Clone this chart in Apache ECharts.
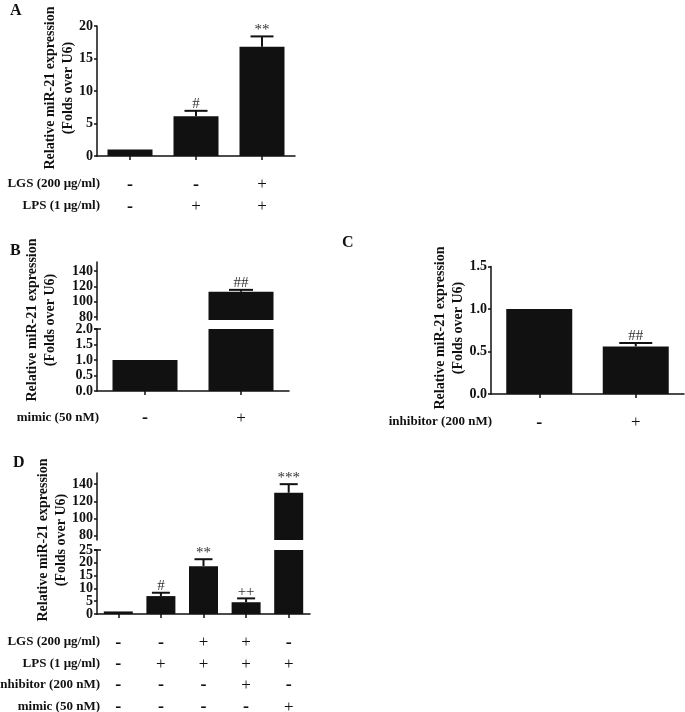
<!DOCTYPE html>
<html><head><meta charset="utf-8">
<script src="https://cdn.jsdelivr.net/npm/echarts@6/dist/echarts.min.js"></script>
<style>html,body{margin:0;padding:0;background:#fff}#c{width:685px;height:712px}</style>
</head><body><div id="c"></div>
<script>
const FONT = '"Liberation Serif","Times New Roman",serif';
const INK = '#111';
const AXIS_NAME = 'Relative miR-21 expression\n(Folds over U6)';

// Panel A
const aValues = [1.0, 6.1, 16.8];
const aErrors = [0.0, 0.85, 1.6];
const aMarks = ['', '#', '**'];
const aTicks = [0, 5, 10, 15, 20];
const aRowLabels = ['LGS (200 μg/ml)', 'LPS (1 μg/ml)'];
const aSigns = [['-', '-', '+'], ['-', '+', '+']];

// Panel B
const bValues = [1.0, 113];
const bErrors = [0.0, 2.5];
const bMarks = ['', '##'];
const bTicksUpper = [80, 100, 120, 140];
const bTicksLower = [0, 0.5, 1.0, 1.5, 2.0];
const bRowLabels = ['mimic (50 nM)'];
const bSigns = [['-', '+']];

// Panel C
const cValues = [1.0, 0.56];
const cErrors = [0.0, 0.04];
const cMarks = ['', '##'];
const cTicks = [0, 0.5, 1.0, 1.5];
const cRowLabels = ['inhibitor (200 nM)'];
const cSigns = [['-', '+']];

// Panel D
const dValues = [1.0, 7.0, 18.7, 4.6, 130];
const dErrors = [0.0, 1.3, 2.7, 1.5, 10];
const dMarks = ['', '#', '**', '++', '***'];
const dTicksUpper = [80, 100, 120, 140];
const dTicksLower = [0, 5, 10, 15, 20, 25];
const dRowLabels = ['LGS (200 μg/ml)', 'LPS (1 μg/ml)', 'inhibitor (200 nM)', 'mimic (50 nM)'];
const dSigns = [
  ['-', '-', '+', '+', '-'],
  ['-', '+', '+', '+', '+'],
  ['-', '-', '-', '+', '-'],
  ['-', '-', '-', '-', '+']
];

const int = v => String(v);
const dec = v => Number(v).toFixed(1);

const panels = [
  { letter: 'A', letterPos: [10, 3], values: aValues, errors: aErrors, marks: aMarks, rows: aRowLabels, signs: aSigns,
    left: 97, width: 198, barWidth: 45, cap: 23, rowOffset: 28, rowGap: 22, rowRight: 100, name: [59, 88],
    segments: [{ top: 26, height: 130, min: 0, max: 20, ticks: aTicks, fmt: int }] },
  { letter: 'B', letterPos: [10, 243], values: bValues, errors: bErrors, marks: bMarks, rows: bRowLabels, signs: bSigns,
    left: 97, width: 192, barWidth: 65, cap: 24, rowOffset: 26.5, rowGap: 22, rowRight: 99, name: [41.5, 320],
    segments: [{ top: 262, height: 58, min: 76, max: 152, ticks: bTicksUpper, fmt: int },
               { top: 329, height: 62, min: 0, max: 2, ticks: bTicksLower, fmt: dec }] },
  { letter: 'C', letterPos: [342, 235], values: cValues, errors: cErrors, marks: cMarks, rows: cRowLabels, signs: cSigns,
    left: 491, width: 193, barWidth: 66, cap: 33, rowOffset: 28, rowGap: 22, rowRight: 492, name: [449, 328],
    segments: [{ top: 266.5, height: 127.5, min: 0, max: 1.5, ticks: cTicks, fmt: dec }] },
  { letter: 'D', letterPos: [13, 455], values: dValues, errors: dErrors, marks: dMarks, rows: dRowLabels, signs: dSigns,
    left: 97, width: 213, barWidth: 29, cap: 18, rowOffset: 28, rowGap: 21.4, rowRight: 100, name: [52.5, 540],
    segments: [{ top: 473, height: 67, min: 75, max: 153, ticks: dTicksUpper, fmt: int },
               { top: 550, height: 64, min: 0, max: 25, ticks: dTicksLower, fmt: int }] }
];

const grids = [], xAxes = [], yAxes = [], series = [], graphics = [];

panels.forEach(p => {
  const cats = p.values.map((_, i) => String(i));
  const last = p.segments.length - 1;
  p.segments.forEach((s, si) => {
    const gi = grids.length;
    const isLast = si === last;
    grids.push({ left: p.left, top: s.top, width: p.width, height: s.height, containLabel: false, outerBoundsMode: 'none' });
    xAxes.push({
      type: 'category', gridIndex: gi, data: cats, show: isLast, boundaryGap: true,
      axisLine: { show: true, onZero: false, lineStyle: { color: INK, width: 1.5 } },
      axisTick: { show: true, alignWithLabel: true, length: 4, lineStyle: { color: INK, width: 1.5 } },
      axisLabel: {
        show: true, interval: 0, hideOverlap: false, margin: p.rowOffset - p.rowGap / 2 + 1, color: INK,
        formatter: (v, idx) => p.signs.map(r => r[idx] === '+' ? '{p|+}' : '{m|-}').join('\n'),
        rich: {
          p: { fontFamily: FONT, fontSize: 17, fontWeight: 'normal', lineHeight: p.rowGap, color: INK },
          m: { fontFamily: FONT, fontSize: 18, fontWeight: 'bold', lineHeight: p.rowGap, color: INK }
        }
      }
    });
    // two interleaved label sets on the same spot so dense tick labels are never auto-hidden
    const tickSets = [s.ticks.filter((_, k) => k % 2 === 0), s.ticks.filter((_, k) => k % 2 === 1)];
    const yIdx = yAxes.length;
    tickSets.forEach((ts, k) => {
      yAxes.push({
        type: 'value', gridIndex: gi, min: s.min, max: s.max, splitLine: { show: false }, position: 'left', offset: 0,
        axisLine: { show: k === 0, lineStyle: { color: INK, width: 1.5 } },
        axisTick: { show: true, length: 3, customValues: ts, lineStyle: { color: INK, width: 1.5 } },
        axisLabel: { margin: 4, customValues: ts, formatter: s.fmt, color: INK, hideOverlap: false,
          fontFamily: FONT, fontWeight: 'bold', fontSize: 14 }
      });
    });
    series.push({ type: 'bar', xAxisIndex: gi, yAxisIndex: yIdx, data: p.values, barWidth: p.barWidth,
      itemStyle: { color: INK }, clip: true, silent: true });
    const errData = p.values.map((v, i) => [i, v, p.errors[i]]).filter(d => d[1] <= s.max && d[1] >= s.min);
    series.push({
      type: 'custom', xAxisIndex: gi, yAxisIndex: yIdx, data: errData, clip: false, z: 5, silent: true,
      renderItem: (params, api) => {
        const i = api.value(0), v = api.value(1), e = api.value(2);
        const b = api.coord([i, v]), t = api.coord([i, v + e]);
        const ch = [];
        if (e > 0) {
          ch.push({ type: 'line', shape: { x1: b[0], y1: b[1], x2: t[0], y2: t[1] }, style: { stroke: INK, lineWidth: 2 } });
          ch.push({ type: 'line', shape: { x1: t[0] - p.cap / 2, y1: t[1], x2: t[0] + p.cap / 2, y2: t[1] }, style: { stroke: INK, lineWidth: 2 } });
        }
        const m = p.marks[i];
        if (m) ch.push({ type: 'text', x: t[0], y: t[1] + 1,
          style: { text: m, fill: '#333', font: '15px ' + FONT, textAlign: 'center', textVerticalAlign: 'bottom', align: 'center', verticalAlign: 'bottom' } });
        return { type: 'group', children: ch };
      }
    });
    if (p.segments.length > 1 && si > 0) {
      graphics.push({ type: 'line', shape: { x1: p.left - 3, y1: s.top, x2: p.left + 4, y2: s.top }, style: { stroke: INK, lineWidth: 1.5 } });
    }
  });
  const bottomY = p.segments[last].top + p.segments[last].height;
  p.rows.forEach((r, ri) => graphics.push({
    type: 'text', x: p.rowRight, y: bottomY + p.rowOffset + ri * p.rowGap,
    style: { text: r, font: 'bold 13px ' + FONT, fill: INK, textAlign: 'right', textVerticalAlign: 'middle', align: 'right', verticalAlign: 'middle' }
  }));
  graphics.push({
    type: 'text', x: p.name[0], y: p.name[1], rotation: Math.PI / 2,
    style: { text: AXIS_NAME, font: 'bold 14px ' + FONT, lineHeight: 18, fill: INK, textAlign: 'center', textVerticalAlign: 'middle', align: 'center', verticalAlign: 'middle' }
  });
  graphics.push({
    type: 'text', x: p.letterPos[0], y: p.letterPos[1],
    style: { text: p.letter, font: 'bold 16px ' + FONT, fill: INK, textAlign: 'left', textVerticalAlign: 'top', align: 'left', verticalAlign: 'top' }
  });
});

const chart = echarts.init(document.getElementById('c'), null, { renderer: 'canvas' });
chart.setOption({
  animation: false,
  backgroundColor: '#fff',
  grid: grids, xAxis: xAxes, yAxis: yAxes, series: series,
  graphic: { elements: graphics }
});
</script></body></html>
